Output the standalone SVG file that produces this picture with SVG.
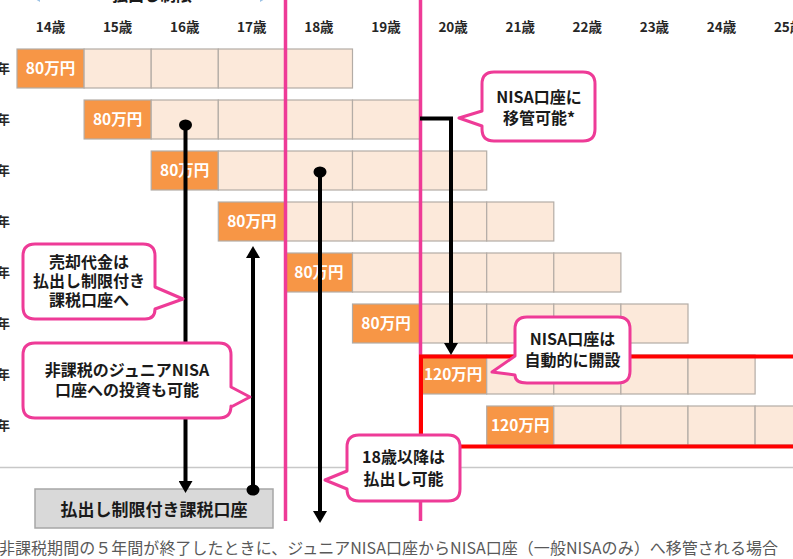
<svg xmlns="http://www.w3.org/2000/svg" width="793" height="559" viewBox="0 0 793 559">
<style>
text{font-family:"Noto Sans CJK JP","Noto Sans",sans-serif}
.age{font-size:13.5px;font-weight:bold;fill:#262626;text-anchor:middle}
.yr{font-size:13px;font-weight:bold;fill:#262626;text-anchor:end}
.lt{fill:#fce9da;stroke:#b3aca6;stroke-width:1.2}
.or{fill:#f79646;stroke:#b3aca6;stroke-width:1.2}
.ot{font-size:15.5px;font-weight:bold;fill:#fff;text-anchor:middle}
.pk{stroke:#ee3b97;stroke-width:3.5;fill:none}
.bl{stroke:#000;stroke-width:4;fill:none}
.co{fill:#fff;stroke:#ee3b97;stroke-width:3;stroke-linejoin:round}
.ct{font-size:16px;font-weight:bold;fill:#1a1a1a;text-anchor:middle}
</style>
<defs>
<marker id="ah" viewBox="0 0 12 14" refX="0" refY="7" markerWidth="12" markerHeight="14" orient="auto" markerUnits="userSpaceOnUse"><path d="M0,0 L12,7 L0,14 Z" fill="#000"/></marker>
</defs>
<rect width="793" height="559" fill="#fff"/>
<g id="topspan">
<line x1="36" y1="-4" x2="264" y2="-4" stroke="#9dc3e6" stroke-width="2"/>
<path d="M30,-4 L40,-10 L40,2 Z" fill="#9dc3e6"/>
<path d="M270,-4 L260,-10 L260,2 Z" fill="#9dc3e6"/>
<rect x="108" y="-10" width="88" height="12" fill="#fff"/>
<text x="152" y="1" class="ct">払出し制限</text>
</g>
<g id="ages">
<text x="50.5" y="32" class="age">14歳</text>
<text x="117.6" y="32" class="age">15歳</text>
<text x="184.7" y="32" class="age">16歳</text>
<text x="251.8" y="32" class="age">17歳</text>
<text x="318.9" y="32" class="age">18歳</text>
<text x="386" y="32" class="age">19歳</text>
<text x="453.1" y="32" class="age">20歳</text>
<text x="520.2" y="32" class="age">21歳</text>
<text x="587.3" y="32" class="age">22歳</text>
<text x="654.4" y="32" class="age">23歳</text>
<text x="721.5" y="32" class="age">24歳</text>
<text x="788.6" y="32" class="age">25歳</text>
</g>
<g id="years">
<text x="10" y="73" class="yr">年</text>
<text x="10" y="124" class="yr">年</text>
<text x="10" y="175" class="yr">年</text>
<text x="10" y="226" class="yr">年</text>
<text x="10" y="277" class="yr">年</text>
<text x="10" y="328" class="yr">年</text>
<text x="10" y="379" class="yr">年</text>
<text x="10" y="430" class="yr">年</text>
</g>
<g id="row1">
<rect x="17" y="49" width="67.1" height="39" class="or"/>
<rect x="84.1" y="49" width="67.1" height="39" class="lt"/>
<rect x="151.2" y="49" width="67.1" height="39" class="lt"/>
<rect x="218.3" y="49" width="67.1" height="39" class="lt"/>
<rect x="285.4" y="49" width="67.1" height="39" class="lt"/>
<text x="50.5" y="74" class="ot">80万円</text>
</g>
<g id="row2">
<rect x="84.1" y="100" width="67.1" height="39" class="or"/>
<rect x="151.2" y="100" width="67.1" height="39" class="lt"/>
<rect x="218.3" y="100" width="67.1" height="39" class="lt"/>
<rect x="285.4" y="100" width="67.1" height="39" class="lt"/>
<rect x="352.5" y="100" width="67.1" height="39" class="lt"/>
<text x="117.6" y="125" class="ot">80万円</text>
</g>
<g id="row3">
<rect x="151.2" y="151" width="67.1" height="39" class="or"/>
<rect x="218.3" y="151" width="67.1" height="39" class="lt"/>
<rect x="285.4" y="151" width="67.1" height="39" class="lt"/>
<rect x="352.5" y="151" width="67.1" height="39" class="lt"/>
<rect x="419.6" y="151" width="67.1" height="39" class="lt"/>
<text x="184.7" y="176" class="ot">80万円</text>
</g>
<g id="row4">
<rect x="218.3" y="202" width="67.1" height="39" class="or"/>
<rect x="285.4" y="202" width="67.1" height="39" class="lt"/>
<rect x="352.5" y="202" width="67.1" height="39" class="lt"/>
<rect x="419.6" y="202" width="67.1" height="39" class="lt"/>
<rect x="486.7" y="202" width="67.1" height="39" class="lt"/>
<text x="251.8" y="227" class="ot">80万円</text>
</g>
<g id="row5">
<rect x="285.4" y="253" width="67.1" height="39" class="or"/>
<rect x="352.5" y="253" width="67.1" height="39" class="lt"/>
<rect x="419.6" y="253" width="67.1" height="39" class="lt"/>
<rect x="486.7" y="253" width="67.1" height="39" class="lt"/>
<rect x="553.8" y="253" width="67.1" height="39" class="lt"/>
<text x="318.9" y="278" class="ot">80万円</text>
</g>
<g id="row6">
<rect x="352.5" y="304" width="67.1" height="39" class="or"/>
<rect x="419.6" y="304" width="67.1" height="39" class="lt"/>
<rect x="486.7" y="304" width="67.1" height="39" class="lt"/>
<rect x="553.8" y="304" width="67.1" height="39" class="lt"/>
<rect x="620.9" y="304" width="67.1" height="39" class="lt"/>
<text x="386" y="329" class="ot">80万円</text>
</g>
<g id="row7">
<rect x="419.6" y="355" width="67.1" height="39" class="or"/>
<rect x="486.7" y="355" width="67.1" height="39" class="lt"/>
<rect x="553.8" y="355" width="67.1" height="39" class="lt"/>
<rect x="620.9" y="355" width="67.1" height="39" class="lt"/>
<rect x="688" y="355" width="67.1" height="39" class="lt"/>
<text x="453.1" y="380" class="ot">120万円</text>
</g>
<g id="row8">
<rect x="486.7" y="406" width="67.1" height="39" class="or"/>
<rect x="553.8" y="406" width="67.1" height="39" class="lt"/>
<rect x="620.9" y="406" width="67.1" height="39" class="lt"/>
<rect x="688" y="406" width="67.1" height="39" class="lt"/>
<rect x="755.1" y="406" width="67.1" height="39" class="lt"/>
<text x="520.2" y="431" class="ot">120万円</text>
</g>
<line x1="0" y1="467.5" x2="793" y2="467.5" stroke="#c8c8c8" stroke-width="1.5"/>
<g id="markers">
<line x1="285.5" y1="0" x2="285.5" y2="521" class="pk"/>
<line x1="420.5" y1="0" x2="420.5" y2="521" class="pk"/>
<path d="M800,356.5 H421 V446.5 H800" fill="none" stroke="#ff0000" stroke-width="4"/>
</g>
<g id="taxbox">
<rect x="35" y="489" width="238" height="39" fill="#d9d9d9" stroke="#a6a6a6" stroke-width="1.5"/>
<text x="154" y="516" font-size="17" font-weight="bold" fill="#1a1a1a" text-anchor="middle">払出し制限付き課税口座</text>
</g>
<g id="connectors">
<path d="M185.5,125 V481" class="bl" marker-end="url(#ah)"/>
<ellipse cx="185.5" cy="125" rx="6.5" ry="5.5" fill="#000"/>
<path d="M253,490 V258" class="bl" marker-end="url(#ah)"/>
<ellipse cx="253" cy="490" rx="6.5" ry="5.5" fill="#000"/>
<path d="M320,172 V511" class="bl" marker-end="url(#ah)"/>
<ellipse cx="320" cy="172" rx="6.5" ry="5.5" fill="#000"/>
<path d="M420,118.5 H451 V343" class="bl" marker-end="url(#ah)"/>
</g>
<g id="callout-nisa-move">
<path d="M494,72 H583 Q595,72 595,84 V129 Q595,141 583,141 H494 Q482,141 482,129 V126 L459,118 L482,111 V84 Q482,72 494,72 Z" class="co"/>
<text x="539" y="103" class="ct">NISA口座に</text>
<text x="539" y="124" class="ct">移管可能*</text>
</g>
<g id="callout-sale">
<path d="M35,244 H143 Q155,244 155,256 V287 L183,299 L155,309 Q155,319 145,319 H35 Q23,319 23,307 V256 Q23,244 35,244 Z" class="co"/>
<text x="89" y="268" class="ct">売却代金は</text>
<text x="89" y="287" class="ct">払出し制限付き</text>
<text x="89" y="306" class="ct">課税口座へ</text>
</g>
<g id="callout-invest">
<path d="M35,343 H219 Q231,343 231,355 V387 L250,397 L231,407 V406 Q231,418 219,418 H35 Q23,418 23,406 V355 Q23,343 35,343 Z" class="co"/>
<text x="127" y="376" class="ct">非課税のジュニアNISA</text>
<text x="127" y="396" class="ct">口座への投資も可能</text>
</g>
<g id="callout-auto">
<path d="M527,317 H618 Q630,317 630,329 V371 Q630,383 618,383 H527 Q515,383 515,375 L492,372 L515,356 V329 Q515,317 527,317 Z" class="co"/>
<text x="572.5" y="345" class="ct">NISA口座は</text>
<text x="572.5" y="366" class="ct">自動的に開設</text>
</g>
<g id="callout-18">
<path d="M359,435 H448 Q460,435 460,447 V489 Q460,501 448,501 H359 Q347,501 347,489 L325,480 L347,471 V447 Q347,435 359,435 Z" class="co"/>
<text x="403.5" y="463" class="ct">18歳以降は</text>
<text x="403.5" y="485" class="ct">払出し可能</text>
</g>
<text x="-1" y="554" font-size="16" fill="#595959" textLength="779" lengthAdjust="spacing">非課税期間の５年間が終了したときに、ジュニアNISA口座からNISA口座（一般NISAのみ）へ移管される場合</text>
</svg>
